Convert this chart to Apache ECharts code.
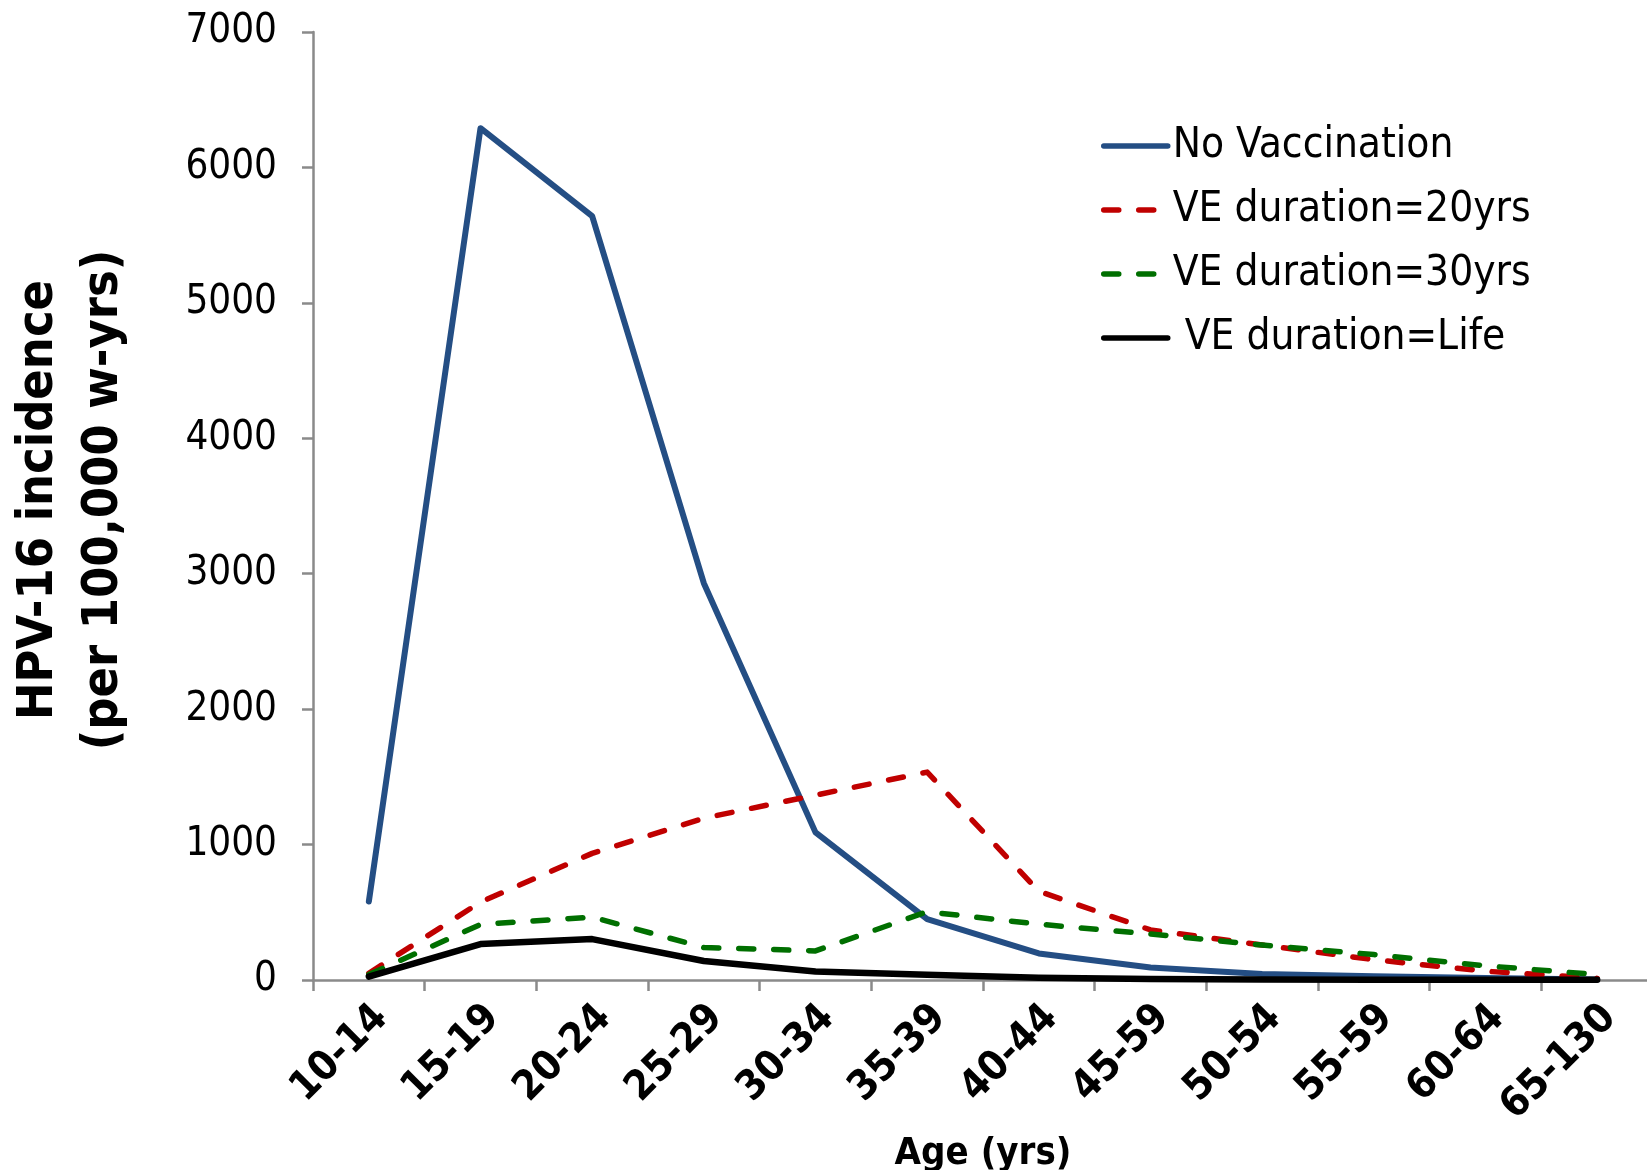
<!DOCTYPE html>
<html>
<head>
<meta charset="utf-8">
<script src="https://cdn.jsdelivr.net/npm/echarts@6/dist/echarts.min.js"></script>
<style>
  html, body { margin: 0; padding: 0; background: #ffffff; }
  #chart { width: 1647px; height: 1170px; }
</style>
</head>
<body>
<div id="chart"></div>
<script>
// Age groups on the x axis
const ageGroups = ['10-14', '15-19', '20-24', '25-29', '30-34', '35-39',
                   '40-44', '45-59', '50-54', '55-59', '60-64', '65-130'];

// HPV-16 incidence per 100,000 woman-years
const noVaccination = [580, 6290, 5640, 2930, 1090, 450, 196, 92, 45, 28, 15, 4];
const veDuration20  = [50, 575, 935, 1195, 1365, 1535, 655, 370, 258, 150, 65, 12];
const veDuration30  = [40, 410, 465, 240, 215, 504, 412, 340, 258, 188, 105, 40];
const veDurationLife = [25, 265, 302, 140, 62, 38, 16, 7, 4, 2, 1, 1];

// Y axis range
const yMin = 0, yMax = 7000, yStep = 1000;

const FONT = "'DejaVu Sans Condensed', 'DejaVu Sans', sans-serif";
const AXIS_GREY = '#8a8a8a';
const CLEAR = 'rgba(0,0,0,0)';

const chart = echarts.init(document.getElementById('chart'), null, { renderer: 'canvas' });

function lineSeries(name, data, color, width, dashed, z) {
  return {
    name: name,
    type: 'line',
    data: data,
    symbol: 'none',
    showSymbol: false,
    smooth: false,
    z: z,
    lineStyle: {
      color: color,
      width: width,
      type: dashed ? [15, 20] : 'solid',
      cap: 'round',
      join: 'round'
    },
    itemStyle: { color: color }
  };
}

chart.setOption({
  animation: false,
  backgroundColor: '#ffffff',
  grid: { left: 313, right: -6, top: 32, bottom: 190, containLabel: false, outerBoundsMode: 'none' },
  legend: {
    orient: 'vertical',
    left: 1096,
    top: 120,
    itemWidth: 64,
    itemHeight: 12,
    itemGap: 22,
    // line-only legend keys: hide the marker drawn at the centre of each key
    itemStyle: { color: CLEAR, borderColor: CLEAR, borderWidth: 0 },
    lineStyle: { width: 5.5, cap: 'round' },
    textStyle: { fontFamily: FONT, fontSize: 42, color: '#000', lineHeight: 42 },
    data: ['No Vaccination', 'VE duration=20yrs', 'VE duration=30yrs', ' VE duration=Life']
  },
  xAxis: {
    type: 'category',
    data: ageGroups,
    boundaryGap: true,
    name: 'Age (yrs)',
    nameLocation: 'middle',
    nameGap: 152,
    nameTextStyle: { fontFamily: FONT, fontSize: 38, fontWeight: 'bold', color: '#000' },
    axisLine: { lineStyle: { color: AXIS_GREY, width: 2.5 } },
    axisTick: { show: true, alignWithLabel: false, length: 11, lineStyle: { color: AXIS_GREY, width: 2.5 } },
    axisLabel: {
      rotate: 45,
      margin: 19,
      interval: 0,
      verticalAlign: 'top',
      lineHeight: 36,
      fontFamily: FONT,
      fontSize: 41,
      fontWeight: 'bold',
      color: '#000'
    },
    splitLine: { show: false }
  },
  yAxis: {
    type: 'value',
    min: yMin,
    max: yMax,
    interval: yStep,
    axisLine: { show: true, lineStyle: { color: AXIS_GREY, width: 2.5 } },
    axisTick: { show: true, length: 11, lineStyle: { color: AXIS_GREY, width: 2.5 } },
    axisLabel: {
      margin: 36, fontFamily: FONT, fontSize: 40, color: '#000',
      formatter: function (v) { return String(v); }
    },
    splitLine: { show: false }
  },
  graphic: [{
    type: 'text',
    x: 72,
    y: 500,
    rotation: Math.PI / 2,
    style: {
      text: 'HPV-16 incidence\n(per 100,000 w-yrs)',
      font: 'bold 50px ' + FONT,
      fill: '#000',
      textAlign: 'center',
      textVerticalAlign: 'middle',
      lineHeight: 65
    }
  }],
  series: [
    lineSeries('No Vaccination', noVaccination, '#244e84', 6, false, 2),
    lineSeries('VE duration=20yrs', veDuration20, '#c00000', 5.5, true, 3),
    lineSeries('VE duration=30yrs', veDuration30, '#006f00', 5.5, true, 4),
    lineSeries(' VE duration=Life', veDurationLife, '#000000', 6.5, false, 5)
  ]
});
</script>
</body>
</html>
